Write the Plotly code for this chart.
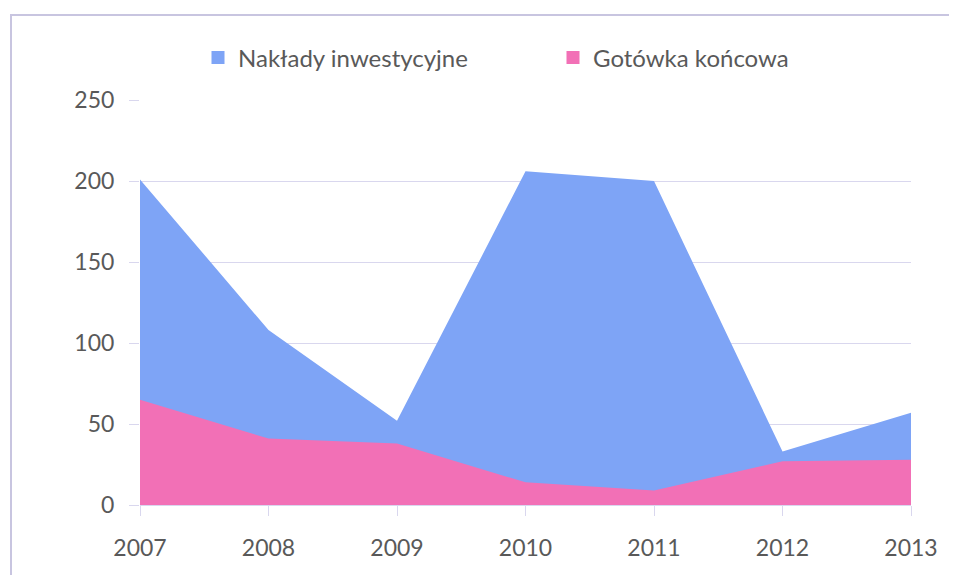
import plotly.graph_objects as go

years = ["2007", "2008", "2009", "2010", "2011", "2012", "2013"]
naklady = [201, 108, 52, 206, 200, 33, 57]
gotowka = [65, 41, 38, 14, 9, 27, 28]
y_ticks = [0, 50, 100, 150, 200, 250]
series_names = ["Nakłady inwestycyjne", "Gotówka końcowa"]
colors = ["#7ea4f6", "#f270b6"]

# page body has an 8px margin: work in window pixels, convert to figure pixels
OFF = 8
W, H = 957 - 2 * OFF, 583 - 2 * OFF
PL, PR, PT, PB = 140, 911, 100, 505          # plot box in window pixels
L, T = PL - OFF, PT - OFF
R, B = W - (PR - OFF), H - (PB - OFF)
pw, ph = W - L - R, H - T - B

def px(x):
    return (x - OFF - L) / pw

def py(y):
    return (H - B - (y - OFF)) / ph

fig = go.Figure()
for vals, name, col in [(naklady, series_names[0], colors[0]), (gotowka, series_names[1], colors[1])]:
    fig.add_trace(go.Scatter(
        x=years, y=vals, name=name, mode="lines", showlegend=False,
        line=dict(width=0, color=col), fill="tozeroy", fillcolor=col,
    ))
for name, col in zip(series_names, colors):
    fig.add_trace(go.Scatter(
        x=[None], y=[None], name=name, mode="markers",
        marker=dict(symbol="square", size=13, color=col), showlegend=True,
    ))

font_fam = "Lato, 'Open Sans', sans-serif"
grid_col = "#d9d7ee"
fig.update_layout(
    width=W, height=H,
    margin=dict(l=L, r=R, t=T, b=B),
    paper_bgcolor="white", plot_bgcolor="white",
    font=dict(family=font_fam, size=23, color="#595959"),
    legend=dict(orientation="h", x=px(198), xanchor="left", y=py(58), yanchor="middle",
                font=dict(size=24, color="#595959"), itemwidth=30, traceorder="normal",
                entrywidthmode="pixels", entrywidth=310, bgcolor="rgba(0,0,0,0)"),
    xaxis=dict(type="category", range=[0, 6], showgrid=False, showline=True,
               linecolor=grid_col, linewidth=1, ticks="outside", ticklen=10,
               tickcolor=grid_col, ticklabelstandoff=12, tickfont=dict(size=23)),
    yaxis=dict(range=[0, 250], tickvals=y_ticks, showgrid=True, gridcolor=grid_col,
               gridwidth=1, zeroline=False, showline=False, ticks="outside",
               ticklen=10, tickcolor=grid_col, ticklabelstandoff=10, tickfont=dict(size=23)),
    shapes=[dict(type="rect", xref="paper", yref="paper",
                 x0=px(11), x1=px(975), y0=py(600), y1=py(15),
                 line=dict(color="#c8c5e0", width=2), fillcolor="rgba(0,0,0,0)", layer="below")],
)

fig.write_html("out.html")
